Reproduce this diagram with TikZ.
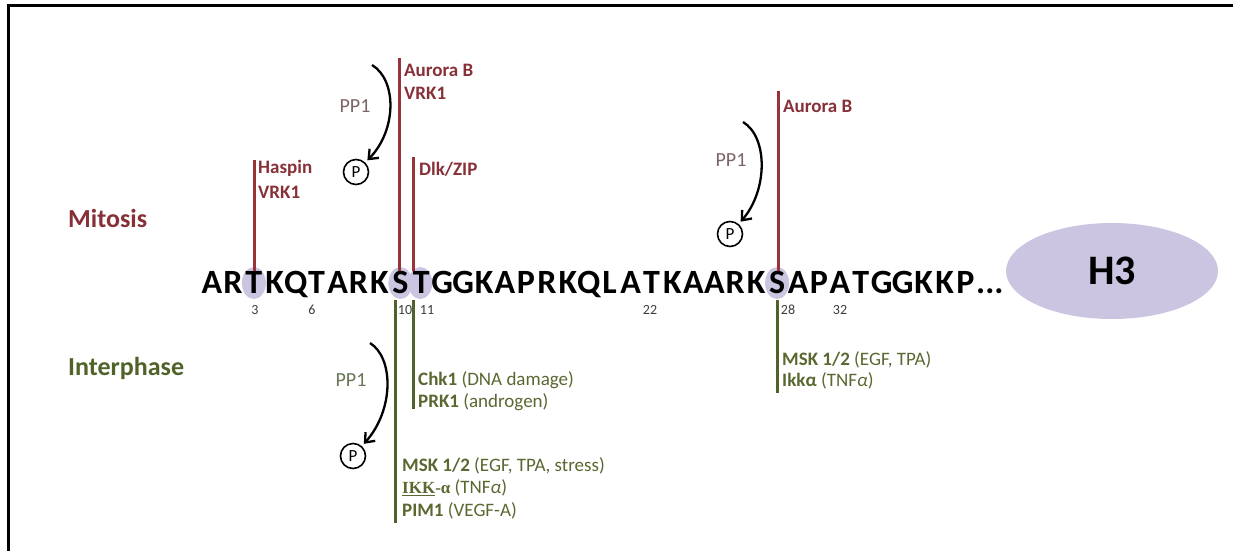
\documentclass[tikz,border=0pt]{standalone}
\usepackage{fontspec}
\setmainfont{Carlito}
\newfontfamily\serifbf{Liberation Serif}
\usetikzlibrary{arrows.meta,shapes.geometric}
\definecolor{mitred}{RGB}{150,52,58}
\definecolor{mittext}{RGB}{135,48,55}
\definecolor{intgreen}{RGB}{79,98,40}
\definecolor{inttext}{RGB}{88,104,48}
\definecolor{pprd}{RGB}{125,100,102}
\definecolor{ppgr}{RGB}{105,118,85}
\definecolor{lav}{RGB}{203,197,226}
\definecolor{numgray}{RGB}{60,60,60}
\begin{document}
\begin{tikzpicture}[x=1pt,y=-1pt,
  redline/.style={draw=mitred,line width=3pt},
  grnline/.style={draw=intgreen,line width=3pt},
  seq/.style={anchor=base,inner sep=0,font=\fontsize{34}{34}\selectfont\bfseries},
  num/.style={inner sep=0,text=numgray,font=\fontsize{14}{14}\selectfont},
  mlab/.style={anchor=west,inner sep=0,text=mittext,font=\fontsize{19}{20}\selectfont\bfseries},
  glab/.style={anchor=west,inner sep=0,text=inttext,font=\fontsize{19}{20}\selectfont},
  pc/.style={circle,draw=black,line width=1.6pt,inner sep=0,minimum size=25pt,font=\fontsize{17}{17}\selectfont},
  pparrow/.style={draw=black,line width=2.3pt,-{Straight Barb[length=8pt,width=13pt,line width=2.3pt]},shorten >=3pt},
  pplab/.style={inner sep=0,font=\fontsize{20}{20}\selectfont},
  phase/.style={anchor=west,inner sep=0,font=\fontsize{26}{26}\selectfont\bfseries}
]
\useasboundingbox (0,0) rectangle (1233,550);
% frame
\coordinate (fa) at (8,550);
\coordinate (fb) at (8,5);
\coordinate (fc) at (1233,5);
\draw[line width=3pt,line cap=rect] (fa) -- (fb) -- (fc);

% phase labels
\node[phase,text=mittext] (mitosis) at (68,218) {Mitosis};
\node[phase,text=intgreen] (interphase) at (68,368) {Interphase};

% H3 ellipse
\node[ellipse,fill=lav,minimum width=212pt,minimum height=96pt,inner sep=0,
      font=\fontsize{42}{42}\selectfont\bfseries] (h3) at (1112,271) {H3};

% highlights
\fill[lav] (253.9,283) ellipse [x radius=12pt,y radius=16pt];
\fill[lav] (400.4,283) ellipse [x radius=12pt,y radius=16pt];
\fill[lav] (420.3,283) ellipse [x radius=12pt,y radius=16pt];
\fill[lav] (777.1,283) ellipse [x radius=12pt,y radius=16pt];

% sequence
\foreach \l [count=\i] in {A,R,T,K,Q,T,A,R,K,S,T,G,G,K,A,P,R,K,Q,L,A,T,K,A,A,R,K,S,A,P,A,T,G,G,K,K,P}
  \node[seq] (s\i) at ({212+(\i-1)*20.93},293) {\l};
\node[seq,anchor=base west] (dots) at (976,293) {...};

% numbers
\node[num] (n3) at (255,310) {3};
\node[num] (n6) at (312,310) {6};
\node[num] (n10) at (405,310) {10};
\node[num] (n11) at (427,310) {11};
\node[num] (n22) at (650,310) {22};
\node[num] (n28) at (788,310) {28};
\node[num] (n32) at (840,310) {32};

% mitosis lines
\coordinate (r3a) at (254,160);  \coordinate (r3b) at (254,271);
\coordinate (r10a) at (399,58);  \coordinate (r10b) at (399,271);
\coordinate (r11a) at (413,157); \coordinate (r11b) at (413,271);
\coordinate (r28a) at (778,91);  \coordinate (r28b) at (778,271);
\draw[redline] (r3a) -- (r3b);
\draw[redline] (r10a) -- (r10b);
\draw[redline] (r11a) -- (r11b);
\draw[redline] (r28a) -- (r28b);

% interphase lines
\coordinate (g10a) at (395,300); \coordinate (g10b) at (395,523);
\coordinate (g11a) at (413,300); \coordinate (g11b) at (413,409);
\coordinate (g28a) at (777,300); \coordinate (g28b) at (777,393);
\draw[grnline] (g10a) -- (g10b);
\draw[grnline] (g11a) -- (g11b);
\draw[grnline] (g28a) -- (g28b);

% mitosis labels
\node[mlab] (haspin) at (258,168) {Haspin};
\node[mlab] (vrk1a) at (258,192) {VRK1};
\node[mlab] (aurb1) at (404,70) {Aurora B};
\node[mlab] (vrk1b) at (404,93) {VRK1};
\node[mlab] (dlk) at (419,169) {Dlk/ZIP};
\node[mlab] (aurb2) at (783,106) {Aurora B};

% interphase labels
\node[glab] (chk1) at (418,380) {\textbf{Chk1} (DNA damage)};
\node[glab] (prk1) at (418,402) {\textbf{PRK1} (androgen)};
\node[glab] (msk1) at (402,466) {\textbf{MSK 1/2} (EGF, TPA, stress)};
\node[glab] (ikk1) at (402,488) {{\serifbf\bfseries\fontsize{17}{20}\selectfont\underline{IKK}-α} (TNF\textit{α})};
\node[glab] (pim1) at (402,511) {\textbf{PIM1} (VEGF-A)};
\node[glab] (msk2) at (782,360) {\textbf{MSK 1/2} (EGF, TPA)};
\node[glab] (ikk2) at (782,381) {\textbf{Ikkα} (TNF\textit{α})};

% PP1 dephosphorylation arrows
\node[pplab,text=pprd] (pp1a) at (355,106) {PP1};
\node[pc] (p1) at (356,172) {P};
\coordinate (a1) at (372,65);
\draw[pparrow] (a1) .. controls (397,80) and (397,130) .. (p1);

\node[pplab,text=pprd] (pp1b) at (731,160) {PP1};
\node[pc] (p2) at (730,234) {P};
\coordinate (a2) at (743,122);
\draw[pparrow] (a2) .. controls (768,137) and (768,190) .. (p2);

\node[pplab,text=ppgr] (pp1c) at (351,380) {PP1};
\node[pc] (p3) at (353,456) {P};
\coordinate (a3) at (370,343);
\draw[pparrow] (a3) .. controls (394,358) and (394,410) .. (p3);
\end{tikzpicture}
\end{document}
